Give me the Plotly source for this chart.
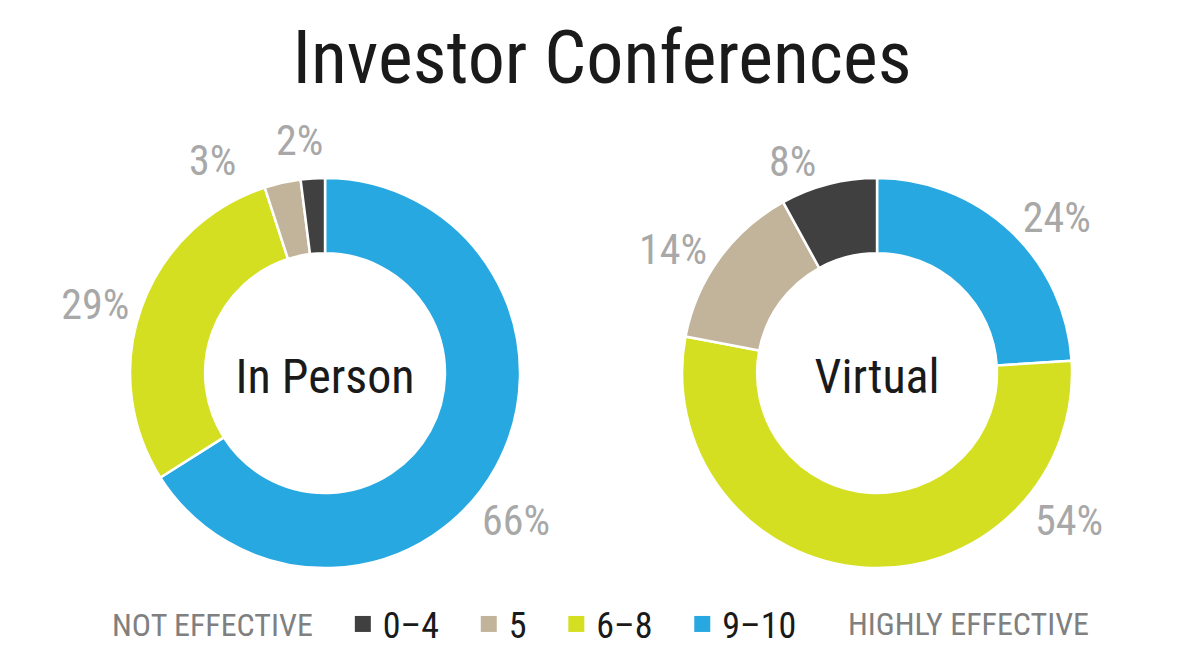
import plotly.graph_objects as go

categories = ["9–10", "6–8", "5", "0–4"]
in_person = [66, 29, 3, 2]
virtual = [24, 54, 14, 8]
colors = ["#27A8E0", "#D5DF22", "#C2B49B", "#404040"]
legend_order = ["0–4", "5", "6–8", "9–10"]
color_of = dict(zip(categories, colors))

FONT = "Roboto Condensed, Liberation Sans Narrow, DejaVu Sans Condensed, sans-serif"
LABEL_FONT = dict(family=FONT, size=42, color="#A8A8A8")

LEFT_X = [0.1017, 0.4267]
RIGHT_X = [0.5617, 0.8867]
DOM_Y = [0.1527, 0.7427]

fig = go.Figure()


def add_donut(values, name, xdom, textpos):
    fig.add_trace(go.Pie(
        labels=categories,
        values=values,
        sort=False,
        direction="clockwise",
        rotation=0,
        hole=0.615,
        domain=dict(x=xdom, y=DOM_Y),
        marker=dict(colors=colors, line=dict(color="white", width=2.5)),
        texttemplate="%{value}%",
        textposition=textpos,
        textfont=LABEL_FONT,
        title=dict(text=name, position="middle center",
                   font=dict(family=FONT, size=48, color="#1a1a1a")),
        showlegend=False,
        hoverinfo="label+value",
    ))


add_donut(in_person, "In Person", LEFT_X, ["none", "outside", "none", "none"])
add_donut(virtual, "Virtual", RIGHT_X, ["outside", "none", "outside", "outside"])

# legend entries (square swatches); trailing no-break spaces widen the gaps
for i, cat in enumerate(legend_order):
    pad = "\u00a0\u00a0\u00a0" if i < len(legend_order) - 1 else ""
    fig.add_trace(go.Scatter(
        x=[None], y=[None], mode="markers", name=cat + pad,
        marker=dict(symbol="square", size=16, color=color_of[cat]),
        showlegend=True, hoverinfo="skip",
    ))


def slice_label(value, x, y):
    return dict(text=f"{value}%", x=x, y=y, xref="paper", yref="paper",
                xanchor="center", yanchor="middle", showarrow=False, font=LABEL_FONT)


annotations = [
    dict(text="HIGHLY EFFECTIVE", x=0.698, y=0.068, xref="paper", yref="paper",
         xanchor="left", yanchor="middle", showarrow=False,
         font=dict(family=FONT, size=32, color="#808080")),
    # hand-placed labels (as in the reference)
    slice_label(in_person[0], 0.423, 0.224),
    slice_label(in_person[2], 0.170, 0.770),
    slice_label(in_person[3], 0.2433, 0.800),
    slice_label(virtual[1], 0.884, 0.224),
]

fig.update_layout(
    width=1200, height=661,
    paper_bgcolor="white", plot_bgcolor="white",
    margin=dict(l=0, r=0, t=0, b=0),
    xaxis=dict(visible=False), yaxis=dict(visible=False),
    title=dict(text="Investor Conferences", x=0.495, xanchor="center",
               y=0.925, yanchor="middle",
               font=dict(family=FONT, size=74, color="#1a1a1a")),
    legend=dict(orientation="h", x=0.085, xanchor="left", y=0.068, yanchor="middle",
                traceorder="normal",
                font=dict(family=FONT, size=36, color="#1a1a1a"),
                title=dict(text="NOT EFFECTIVE\u00a0\u00a0\u00a0", side="left",
                           font=dict(family=FONT, size=32, color="#808080")),
                itemsizing="trace"),
    annotations=annotations,
)

fig.write_html("out.html")
